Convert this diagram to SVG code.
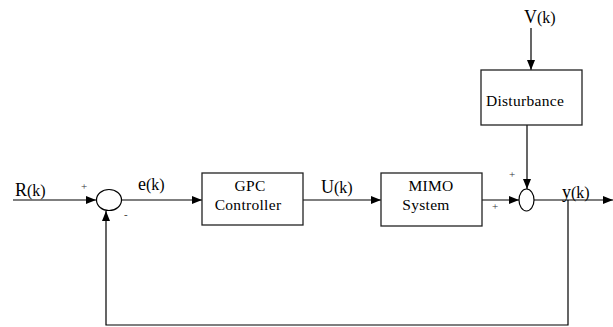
<svg xmlns="http://www.w3.org/2000/svg" width="613" height="327" viewBox="0 0 613 327">
<style>
.box{fill:#fff;stroke:#222;stroke-width:1.3}
.ln{fill:none;stroke:#000;stroke-width:1.2}
text{font-family:"Liberation Serif","Times New Roman",serif;fill:#000}
.bt{font-size:15.5px;text-anchor:middle;letter-spacing:0.3px}
.lb{font-size:18px}
.sm{font-size:16px}
.sg{font-size:11px;fill:#333}
</style>
<defs>
<marker id="ah" markerWidth="10" markerHeight="8" refX="10" refY="4" orient="auto" markerUnits="userSpaceOnUse">
<path d="M0,0 L10,4 L0,8 Z" fill="#000"/>
</marker>
</defs>
<rect width="613" height="327" fill="#fff"/>
<g id="connectors">
<line class="ln" x1="13" y1="200" x2="96" y2="200" marker-end="url(#ah)"/>
<line class="ln" x1="122" y1="200" x2="202" y2="200" marker-end="url(#ah)"/>
<line class="ln" x1="303" y1="200" x2="381" y2="200" marker-end="url(#ah)"/>
<line class="ln" x1="482" y1="200" x2="519" y2="200" marker-end="url(#ah)"/>
<line class="ln" x1="534" y1="200" x2="613" y2="200" marker-end="url(#ah)"/>
<line class="ln" x1="531" y1="28" x2="531" y2="70" marker-end="url(#ah)"/>
<line class="ln" x1="527" y1="125" x2="527" y2="189" marker-end="url(#ah)"/>
<polyline class="ln" points="568,200 568,325 106,325 106,211" marker-end="url(#ah)"/>
</g>
<g id="sum1">
<ellipse cx="109" cy="200" rx="12.5" ry="10.5" fill="#fff" stroke="#000" stroke-width="1.2"/>
<text class="sg" x="81" y="190">+</text>
<text class="sg" x="124" y="218">-</text>
</g>
<g id="sum2">
<ellipse cx="526.5" cy="200" rx="7.5" ry="11" fill="#fff" stroke="#000" stroke-width="1.2"/>
<text class="sg" x="509" y="178">+</text>
<text class="sg" x="492" y="210">+</text>
</g>
<g id="gpc">
<rect class="box" x="202" y="173" width="101" height="52"/>
<text class="bt" x="250" y="191">GPC</text>
<text class="bt" x="248" y="210">Controller</text>
</g>
<g id="mimo">
<rect class="box" x="381" y="173" width="101" height="53"/>
<text class="bt" x="431" y="191">MIMO</text>
<text class="bt" x="426" y="210">System</text>
</g>
<g id="disturbance">
<rect class="box" x="481" y="70" width="101" height="55"/>
<text class="bt" x="525" y="106">Disturbance</text>
</g>
<g id="labels">
<text class="lb" x="15" y="196">R<tspan class="sm">(k)</tspan></text>
<text class="lb" x="138" y="190">e<tspan class="sm">(k)</tspan></text>
<text class="lb" x="321" y="193">U<tspan class="sm">(k)</tspan></text>
<text class="lb" x="562" y="198">y<tspan class="sm">(k)</tspan></text>
<text class="lb" x="524" y="23">V<tspan class="sm">(k)</tspan></text>
</g>
</svg>
